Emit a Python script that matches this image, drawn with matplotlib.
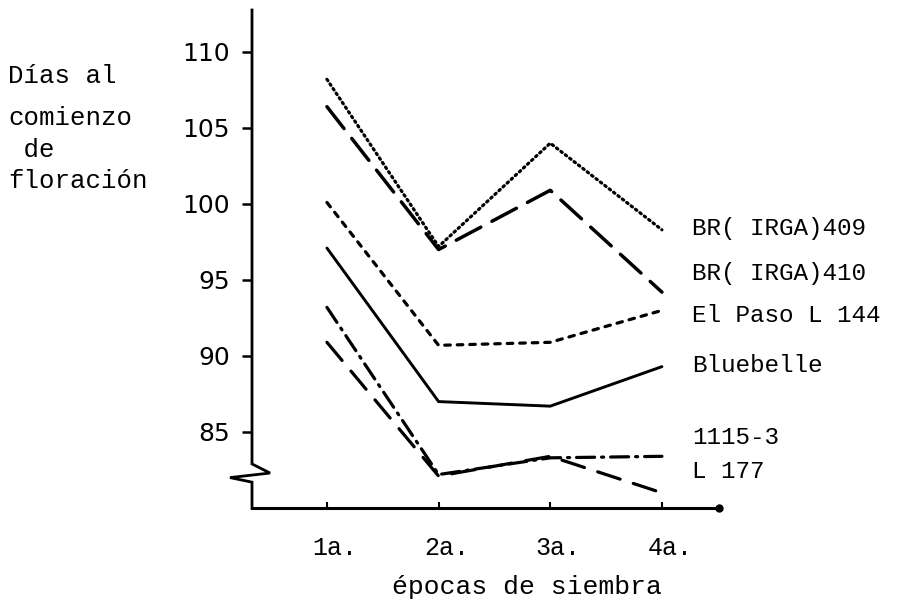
import matplotlib
matplotlib.use("Agg")
import matplotlib.pyplot as plt
from matplotlib.transforms import ScaledTranslation

# data
epocas = ["1a.", "2a.", "3a.", "4a."]
dias_br409 = [108.2, 97.2, 104.0, 98.3]
dias_br410 = [106.4, 97.0, 100.9, 94.2]
dias_el_paso = [100.1, 90.7, 90.9, 93.0]
dias_bluebelle = [97.1, 87.0, 86.7, 89.3]
dias_1115 = [93.2, 82.2, 83.3, 83.4]
dias_l177 = [90.9, 82.1, 83.4, 81.0]
y_ticks = [85, 90, 95, 100, 105, 110]

series = [
    (dias_br409, (0, (1.2, 2.8)), 2.3),
    (dias_br410, (0, (20, 9)), 2.5),
    (dias_el_paso, (0, (4, 5)), 2.3),
    (dias_bluebelle, "-", 2.1),
    (dias_1115, (0, (13, 5, 1.5, 5)), 2.3),
    (dias_l177, (0, (17, 10)), 2.3),
]
labels = [
    ("BR( IRGA)409", 228),
    ("BR( IRGA)410", 274),
    ("El Paso L 144", 316),
    ("Bluebelle", 366),
    ("1115-3", 438),
    ("L 177", 471),
]

W, H = 903, 603
plt.rcParams["lines.scale_dashes"] = False
mono = "Liberation Mono"

fig = plt.figure(figsize=(W / 100, H / 100), dpi=100)
fig.patch.set_facecolor("white")
ax = fig.add_axes([252 / W, 1 - 508 / H, (720 - 252) / W, (508 - 10) / H])
ax.set_xlim(0.329, 4.52)
ax.set_ylim(80, 112.76)

x = list(range(1, len(epocas) + 1))
for vals, ls, lw in series:
    ax.plot(x, vals, color="black", linestyle=ls, linewidth=lw,
            solid_capstyle="round", dash_capstyle="round", clip_on=False)

for s in ["top", "right", "left"]:
    ax.spines[s].set_visible(False)
ax.spines["bottom"].set_linewidth(2.2)
ax.plot([4.51], [80], marker="o", ms=5, color="black", clip_on=False)

# left axis with the break mark near the bottom
px_x = 111.7
x0 = 0.329
brk = [
    (0, 112.76), (0, 82.9), (18, 82.3), (-22, 82.0), (0, 81.7), (0, 80.0)
]
ax.plot([x0 + dx / px_x for dx, _ in brk], [v for _, v in brk],
        color="black", linewidth=2.0, clip_on=False, solid_joinstyle="miter")

ax.set_yticks(y_ticks)
ax.set_yticklabels([str(v) for v in y_ticks], fontsize=18,
                   family="DejaVu Sans")
ax.tick_params(axis="y", direction="out", length=7, width=1.8, pad=9)
ax.set_xticks(x)
ax.set_xticklabels(epocas, fontsize=18, family=mono)
ax.tick_params(axis="x", direction="in", length=4, width=1.5, pad=20)
shift = ScaledTranslation(0.08, 0, fig.dpi_scale_trans)
for lab in ax.get_xticklabels():
    lab.set_transform(lab.get_transform() + shift)

for text, yc in labels:
    fig.text(692 / W, 1 - yc / H, text, fontsize=17.5, family=mono,
             va="center", ha="left")

ylab = [("Días al", 83), ("comienzo", 125), (" de", 157), ("floración", 188)]
for text, yb in ylab:
    fig.text(8 / W, 1 - yb / H, text, fontsize=18.5, family=mono,
             va="baseline", ha="left")

fig.text(527 / W, 1 - 587 / H, "épocas de siembra", fontsize=19,
         family=mono, va="center", ha="center")

fig.savefig("out.png", dpi=100, facecolor="white")
